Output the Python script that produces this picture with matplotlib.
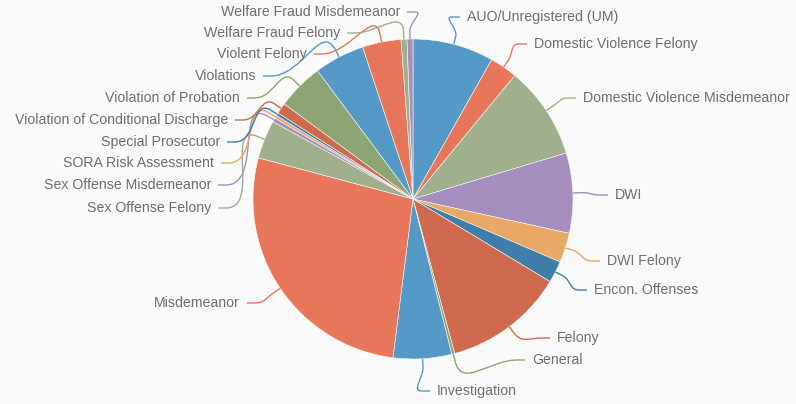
import numpy as np
import matplotlib
matplotlib.use("Agg")
import matplotlib.pyplot as plt
from matplotlib.path import Path
from matplotlib.patches import PathPatch

categories = [
    "AUO/Unregistered (UM)", "Domestic Violence Felony", "Domestic Violence Misdemeanor",
    "DWI", "DWI Felony", "Encon. Offenses", "Felony", "General", "Investigation",
    "Misdemeanor", "Sex Offense Felony", "Sex Offense Misdemeanor", "SORA Risk Assessment",
    "Special Prosecutor", "Violation of Conditional Discharge", "Violation of Probation",
    "Violations", "Violent Felony", "Welfare Fraud Felony", "Welfare Fraud Misdemeanor",
]
values = [82, 28, 94, 81, 30, 22, 122, 3, 59, 272, 39, 4, 3, 3, 11, 47, 51, 39, 6, 6]

palette = ["#5599c7", "#e8765a", "#a0b08c", "#a58ebe",
           "#e8a866", "#3e7ea8", "#cf6a4e", "#8ca573"]

# label layout (pixel positions): anchor x, centre y
label_x_px = [467, 534, 583, 615, 607, 594, 557, 532, 437,
              240, 211, 211, 214, 220, 228, 240, 256, 307, 340, 400]
label_y_px = [17, 44, 98, 195, 261, 290, 338, 360, 391,
              303, 208, 185, 163, 142, 120, 98, 76, 54, 33, 12]

W, H = 796, 404
cx, cy, R = 413, 199, 160
bg = "#fafafa"

fig = plt.figure(figsize=(W / 100, H / 100), dpi=100, facecolor=bg)
ax = fig.add_axes([0, 0, 1, 1])
ax.set_facecolor(bg)

colors = [palette[i % len(palette)] for i in range(len(values))]
wedges, _ = ax.pie(values, colors=colors, startangle=90, counterclock=False,
                   radius=1, center=(0, 0), frame=False,
                   wedgeprops=dict(edgecolor=bg, linewidth=0.4))
ax.set_xlim(-cx / R, (W - cx) / R)
ax.set_ylim(-(H - cy) / R, cy / R)
ax.axis("off")

for w, lab, lx, ly, col in zip(wedges, categories, label_x_px, label_y_px, colors):
    mid = np.deg2rad((w.theta1 + w.theta2) / 2)
    u = np.array([np.cos(mid), np.sin(mid)])
    right = lx > cx
    side = 1 if right else -1
    tx = (lx - cx) / R
    ty = (cy - ly) / R
    E = np.array([tx - side * 7 / R, ty])
    E2 = E - np.array([side * 8 / R, 0])
    P0 = u * 1.0
    P1 = u * 1.05
    d = np.linalg.norm(E2 - P1) * 0.45
    C1 = P1 + u * d
    C2 = E2 - np.array([side * d, 0])
    verts = [P0, P1, C1, C2, E2, E]
    codes = [Path.MOVETO, Path.LINETO, Path.CURVE4, Path.CURVE4, Path.CURVE4, Path.LINETO]
    ax.add_patch(PathPatch(Path(verts, codes), facecolor="none", edgecolor=col, lw=1.0))
    ax.text(tx, ty, lab, ha="left" if right else "right", va="center",
            fontsize=10.2, color="#6e6e6e", family=["Liberation Sans", "DejaVu Sans"])

fig.savefig("out.png", dpi=100, facecolor=bg)
